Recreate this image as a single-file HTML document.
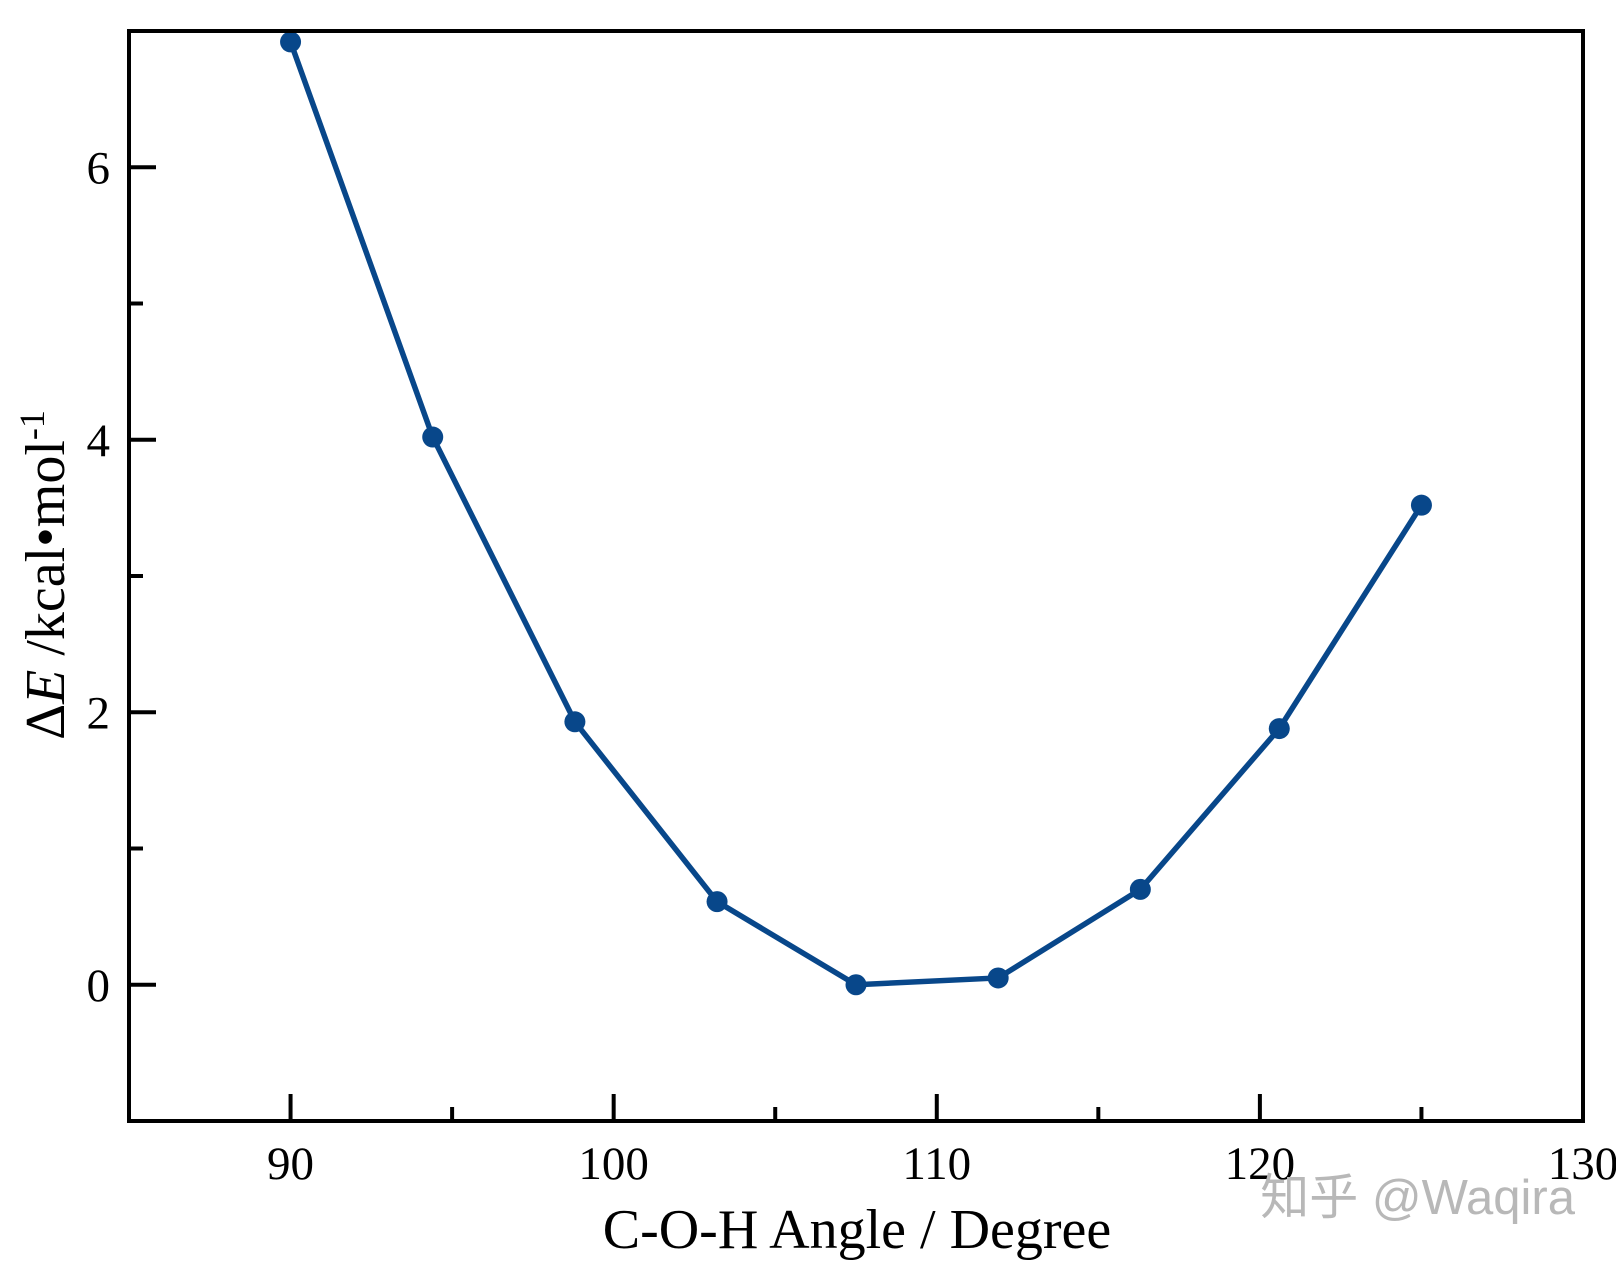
<!DOCTYPE html>
<html><head><meta charset="utf-8"><style>
html,body{margin:0;padding:0;background:#fff;}
svg{display:block;font-family:"Liberation Serif",serif;}
</style></head><body>
<svg id="chart" width="1616" height="1270" viewBox="0 0 1616 1270">
<rect x="0" y="0" width="1616" height="1270" fill="#fff"/>
<g id="ticks"></g>
<g id="series"></g>
<rect x="129" y="31" width="1454" height="1090" fill="none" stroke="#000" stroke-width="4"/>
<text transform="translate(64,575) rotate(-90)" text-anchor="middle" font-size="56"><tspan font-style="normal">Δ</tspan><tspan font-style="italic">E</tspan> /kcal•mol<tspan dy="-20" font-size="36">-1</tspan></text>
<text x="857" y="1248" text-anchor="middle" font-size="56">C-O-H Angle / Degree</text>
<text x="1575" y="1214" text-anchor="end" font-size="49" fill="#b8b8b8" style="font-family:'Liberation Sans','Noto Sans CJK SC',sans-serif">知乎 @Waqira</text>
</svg>
<script>
const angles=[90,94.4,98.8,103.2,107.5,111.9,116.3,120.6,125];
const energies=[6.92,4.02,1.93,0.61,0,0.05,0.70,1.88,3.52];
const xTicks=[90,100,110,120,130];
const xMinor=[95,105,115,125];
const yTicks=[0,2,4,6];
const yMinor=[1,3,5];
const L=129,R=1583,T=31,B=1121,X0=85,X1=130,Y0=-1,Y1=7;
const sx=v=>L+(v-X0)/(X1-X0)*(R-L);
const sy=v=>B-(v-Y0)/(Y1-Y0)*(B-T);
const NS="http://www.w3.org/2000/svg";
const tg=document.getElementById('ticks'),sg=document.getElementById('series');
function mk(tag,a,p){const e=document.createElementNS(NS,tag);for(const k in a)e.setAttribute(k,a[k]);p.appendChild(e);return e;}
xTicks.forEach(v=>{
 const l=mk('line',{x1:sx(v),x2:sx(v),y1:B,y2:B-27,stroke:'#000','stroke-width':4},tg);
 
 
 const t=mk('text',{x:sx(v),y:1179,'text-anchor':'middle','font-size':47},tg);t.textContent=v;
 
 
});
xMinor.forEach(v=>{
 const l=mk('line',{x1:sx(v),x2:sx(v),y1:B,y2:B-14,stroke:'#000','stroke-width':4},tg);
 
 
});
yTicks.forEach(v=>{
 const l=mk('line',{x1:L,x2:L+27,y1:sy(v),y2:sy(v),stroke:'#000','stroke-width':4},tg);
 
 
 const t=mk('text',{x:110,y:sy(v)+16,'text-anchor':'end','font-size':47},tg);t.textContent=v;
 
 
});
yMinor.forEach(v=>{
 const l=mk('line',{x1:L,x2:L+14,y1:sy(v),y2:sy(v),stroke:'#000','stroke-width':4},tg);
 
 
});
const pts=angles.map((a,i)=>sx(a)+','+sy(energies[i])).join(' ');
const pl=mk('polyline',{points:pts,fill:'none',stroke:'#08478a','stroke-width':5.5,'stroke-linejoin':'round'},sg);


angles.forEach((a,i)=>{
 const c=mk('circle',{cx:sx(a),cy:sy(energies[i]),r:10.5,fill:'#08478a'},sg);
 
 
});
</script>
</body></html>
